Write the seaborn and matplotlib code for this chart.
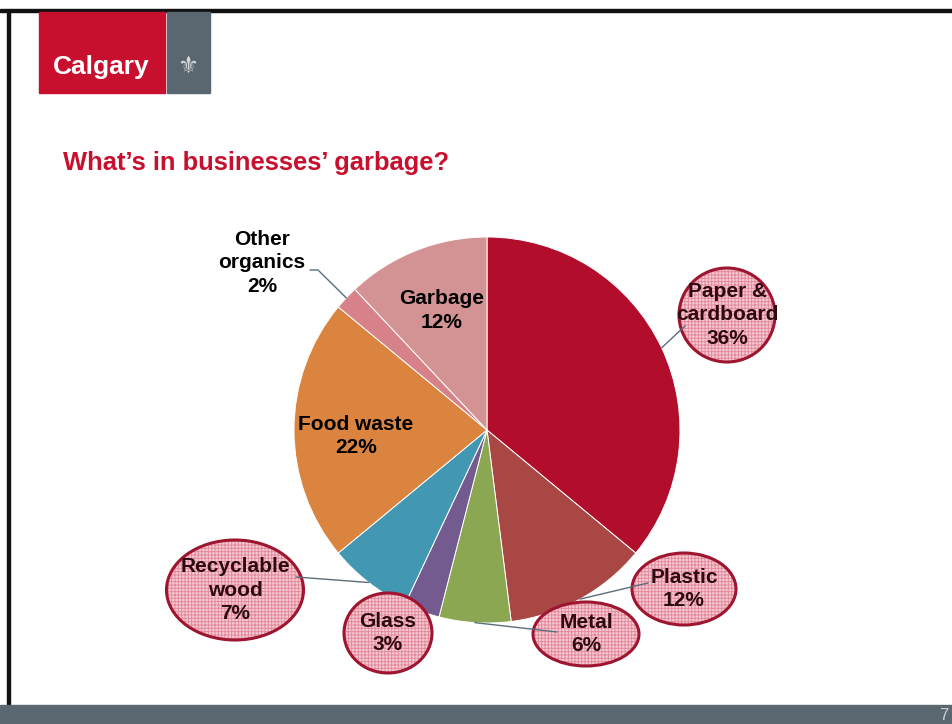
import numpy as np
import matplotlib
matplotlib.use("Agg")
import matplotlib.pyplot as plt
import seaborn as sns
from matplotlib.patches import Ellipse, Rectangle

# Composition of businesses' garbage (percent)
categories = ["Paper &\ncardboard", "Plastic", "Metal", "Glass", "Recyclable\nwood",
              "Food waste", "Other\norganics", "Garbage"]
percents = [36, 12, 6, 3, 7, 22, 2, 12]
slice_colors = ["#B20D2B", "#A94745", "#8CA752", "#735A8F", "#4298B2",
                "#DB843F", "#D7818A", "#D39395"]

# how each label is shown: callout bubble, plain inside, or plain outside
label_style = ["bubble", "bubble", "bubble", "bubble", "bubble", "inside", "outside", "inside"]

sns.set_theme(style="white")
plt.rcParams["font.family"] = ["Liberation Sans", "DejaVu Sans"]
plt.rcParams["hatch.linewidth"] = 0.7

W, H = 952, 724
fig = plt.figure(figsize=(W / 100, H / 100), dpi=100)
ax = fig.add_axes([0, 0, 1, 1])

def Y(y):
    # flip image-style y to axes y
    return H - y

# page frame and header
ax.add_patch(Rectangle((0, Y(12)), W, 3, color="#111111", zorder=1))
ax.add_patch(Rectangle((7, Y(705)), 3, 693, color="#111111", zorder=1))
ax.add_patch(Rectangle((39, Y(93)), 126, 81, color="#C8102E", zorder=2))
ax.add_patch(Rectangle((167, Y(93)), 43, 81, color="#5B6770", zorder=2))
ax.text(101, Y(67), "Calgary", color="white", fontsize=19, fontweight="bold",
        ha="center", va="center", zorder=3)
ax.text(188, Y(66), "⚜", color="#D8DCDE", fontsize=17, ha="center", va="center",
        family="DejaVu Sans", zorder=3)
ax.add_patch(Rectangle((0, 0), W, 19, color="#5B6770", zorder=2))
ax.text(944, 9, "7", color="#C9D0D4", fontsize=12, ha="center", va="center", zorder=3)

ax.text(63, Y(163), "What\u2019s in businesses\u2019 garbage?", color="#C8102E",
        fontsize=18.4, fontweight="bold", ha="left", va="center")

# pie
cx, cy, R = 487, Y(430), 193
wedges, _ = ax.pie(percents, colors=slice_colors, startangle=90, counterclock=False,
                   center=(cx, cy), radius=R,
                   wedgeprops=dict(edgecolor="white", linewidth=0.7))
for w in wedges:
    w.set_zorder(4)

# bubble layout: center, width, height, leader start (image coords)
bubbles = {
    0: ((727, 315), 96, 94, (685, 326)),
    1: ((684, 589), 104, 72, (648, 583)),
    2: ((586, 634), 106, 64, (557, 632)),
    3: ((388, 633), 88, 80, None),
    4: ((235, 590), 137, 100, (296, 577)),
}
line_col = "#5B6E7A"
spacing = 1.32

for i, (w, lab, pct) in enumerate(zip(wedges, categories, percents)):
    mid = np.deg2rad((w.theta1 + w.theta2) / 2)
    edge = (cx + R * np.cos(mid), cy + R * np.sin(mid))
    txt = f"{lab}\n{pct}%"
    if label_style[i] == "bubble":
        (bx, by), bw, bh, start = bubbles[i]
        ax.add_patch(Ellipse((bx, Y(by)), bw, bh, facecolor="#F5CBD3",
                             edgecolor="#E48A9D", hatch="+++++", linewidth=0, zorder=5))
        ax.add_patch(Ellipse((bx, Y(by)), bw, bh, facecolor="none",
                             edgecolor="#9E1530", linewidth=2.2, zorder=6))
        if start is not None:
            ax.plot([start[0], edge[0]], [Y(start[1]), edge[1]], color=line_col,
                    linewidth=1, zorder=7)
        ax.text(bx, Y(by), txt, color="#2E0A10", fontsize=15, fontweight="bold",
                ha="center", va="center", linespacing=spacing, zorder=8)
    elif label_style[i] == "inside":
        tx, ty = cx + 0.7 * R * np.cos(mid), cy + 0.7 * R * np.sin(mid) - 6
        ax.text(tx + 4, ty, txt, color="black", fontsize=15, fontweight="bold",
                ha="center", va="center", linespacing=spacing, zorder=8)
    else:
        ax.plot([310, 318, edge[0]], [Y(270), Y(270), edge[1]], color=line_col,
                linewidth=1, zorder=7)
        ax.text(262, Y(263), txt, color="black", fontsize=15, fontweight="bold",
                ha="center", va="center", linespacing=spacing, zorder=8)

ax.set_xlim(0, W)
ax.set_ylim(0, H)
ax.set_aspect("auto")
ax.axis("off")

fig.savefig("out.png", dpi=100)
